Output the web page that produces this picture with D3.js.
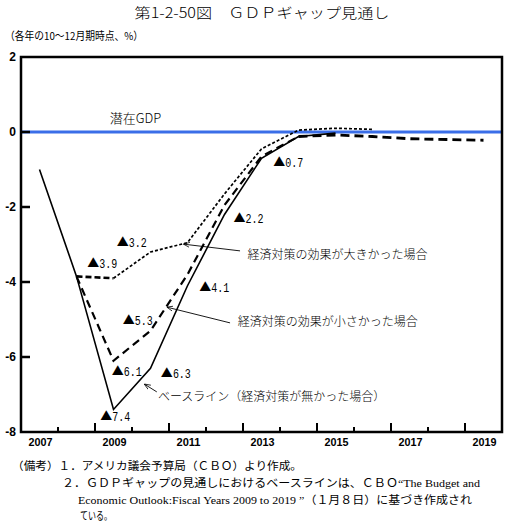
<!DOCTYPE html>
<html lang="ja">
<head>
<meta charset="utf-8">
<title>GDPギャップ見通し</title>
<script src="https://cdn.jsdelivr.net/npm/d3@7"></script>
<style>
  body { margin: 0; background: #fff; }
  svg { display: block; }
</style>
</head>
<body>
<script>
// data
var years = [2007, 2008, 2009, 2010, 2011, 2012, 2013, 2014, 2015, 2016, 2017, 2018, 2019];
var baseline = [-1.0, -3.85, -7.4, -6.3, -4.1, -2.2, -0.7, -0.12, -0.03];
var smallEffect = [null, -3.85, -6.1, -5.3, -3.8, -1.95, -0.65, -0.12, -0.08, -0.12, -0.18, -0.2, -0.22];
var largeEffect = [null, -3.85, -3.9, -3.2, -2.95, -1.65, -0.45, 0.05, 0.1, 0.07];
var yTicks = [2, 0, -2, -4, -6, -8];
var xLabels = [2007, 2009, 2011, 2013, 2015, 2017, 2019];

// ▲ labels: number, [year, value] where the text sits
var gapLabels = [
  ["3.9", 2008.29, -3.62],
  ["3.2", 2009.09, -3.06],
  ["5.3", 2009.25, -5.15],
  ["6.1", 2008.95, -6.50],
  ["7.4", 2008.64, -7.70],
  ["6.3", 2010.28, -6.55],
  ["4.1", 2011.32, -4.26],
  ["2.2", 2012.24, -2.42],
  ["0.7", 2013.32, -0.92]
];
// callouts: text, text pos, leader start, leader tip
var callouts = [
  ["経済対策の効果が大きかった場合", [2012.62, -3.39], [2012.42, -3.17], [2010.89, -2.99]],
  ["経済対策の効果が小さかった場合", [2012.36, -5.17], [2012.15, -5.09], [2010.44, -4.67]],
  ["ベースライン（経済対策が無かった場合）", [2010.2, -7.17], [2010.17, -6.93], [2009.83, -6.72]]
];
var notes = [
  "（備考）１．アメリカ議会予算局（ＣＢＯ）より作成。",
  "２．ＧＤＰギャップの見通しにおけるベースラインは、ＣＢＯ“The Budget and",
  "Economic Outlook:Fiscal Years 2009 to 2019 ”（１月８日）に基づき作成され",
  "ている。"
];

var W = 508, H = 523;
var svg = d3.select("body").append("svg").attr("width", W).attr("height", H);

var x = d3.scaleLinear().domain([2006.5, 2019.5]).range([21, 502]);
var y = d3.scaleLinear().domain([-8, 2]).range([432, 57]);

// title + unit
svg.append("text")
  .attr("x", 262).attr("y", 18)
  .attr("text-anchor", "middle")
  .attr("textLength", 255).attr("lengthAdjust", "spacingAndGlyphs")
  .style("font-family", "'Noto Sans CJK JP'").style("font-size", "14px").style("font-weight", 300)
  .text("第1-2-50図　ＧＤＰギャップ見通し");

svg.append("text")
  .attr("x", 5).attr("y", 40)
  .attr("textLength", 138).attr("lengthAdjust", "spacingAndGlyphs")
  .style("font-family", "'Noto Sans CJK JP'").style("font-size", "11px")
  .text("（各年の10～12月期時点、%）");

// potential GDP line
svg.append("line")
  .attr("x1", x(2006.5)).attr("x2", x(2019.5))
  .attr("y1", y(0)).attr("y2", y(0))
  .attr("stroke", "#3a6ee8").attr("stroke-width", 3);

svg.append("text")
  .attr("x", x(2008.9)).attr("y", y(0.24))
  .style("font-family", "'Noto Sans CJK JP'").style("font-size", "13px").style("font-weight", 300)
  .text("潜在GDP");

// series
var line = d3.line()
  .defined(function(d) { return d != null; })
  .x(function(d, i) { return x(years[i]); })
  .y(function(d) { return y(d); });

svg.append("path").datum(baseline)
  .attr("d", line).attr("fill", "none")
  .attr("stroke", "#000").attr("stroke-width", 1.6);

// small effect: finer dashes up to 2014, bolder after
svg.append("path").datum(smallEffect.map(function(d, i) { return i <= 7 ? d : null; }))
  .attr("d", line).attr("fill", "none")
  .attr("stroke", "#000").attr("stroke-width", 2.2)
  .attr("stroke-dasharray", "8,5");
svg.append("path").datum(smallEffect.map(function(d, i) { return i >= 7 ? d : null; }))
  .attr("d", line).attr("fill", "none")
  .attr("stroke", "#000").attr("stroke-width", 2.8)
  .attr("stroke-dasharray", "9,5");

// large effect: heavy dashes 2008-2009, dotted after
svg.append("path").datum(largeEffect.map(function(d, i) { return i <= 2 ? d : null; }))
  .attr("d", line).attr("fill", "none")
  .attr("stroke", "#000").attr("stroke-width", 2.6)
  .attr("stroke-dasharray", "6,3");
svg.append("path").datum(largeEffect.map(function(d, i) { return i >= 2 ? d : null; }))
  .attr("d", line).attr("fill", "none")
  .attr("stroke", "#000").attr("stroke-width", 1.7)
  .attr("stroke-dasharray", "3,2");

// frame
svg.append("rect")
  .attr("x", x(2006.5)).attr("y", y(2))
  .attr("width", x(2019.5) - x(2006.5)).attr("height", y(-8) - y(2))
  .attr("fill", "none").attr("stroke", "#000").attr("stroke-width", 2.5);

// y ticks (inward) and labels
svg.selectAll(".ytick").data(yTicks.filter(function(d) { return d > -8 && d < 2; }))
  .enter().append("line")
  .attr("x1", x(2006.5)).attr("x2", x(2006.5) + 9)
  .attr("y1", function(d) { return y(d); }).attr("y2", function(d) { return y(d); })
  .attr("stroke", "#000").attr("stroke-width", 2.5);

svg.selectAll(".ylab").data(yTicks)
  .enter().append("text")
  .attr("x", 16).attr("y", function(d) { return y(d) + 4; })
  .attr("text-anchor", "end")
  .style("font-family", "'Liberation Sans', Arial").style("font-size", "12px").style("font-weight", "bold")
  .text(function(d) { return d; });

// x ticks at year boundaries, taller every second one
var xTicks = d3.range(2007.5, 2019, 1);
svg.selectAll(".xtick").data(xTicks)
  .enter().append("line")
  .attr("x1", function(d) { return x(d); }).attr("x2", function(d) { return x(d); })
  .attr("y1", y(-8))
  .attr("y2", function(d, i) { return y(-8) - (i % 2 ? 9 : 5); })
  .attr("stroke", "#000").attr("stroke-width", 2);

svg.selectAll(".xlab").data(xLabels)
  .enter().append("text")
  .attr("x", function(d) { return x(d) + 1; }).attr("y", 446)
  .attr("text-anchor", "middle")
  .attr("textLength", 24).attr("lengthAdjust", "spacingAndGlyphs")
  .style("font-family", "'Liberation Sans', Arial").style("font-size", "11.5px").style("font-weight", "bold")
  .text(function(d) { return d; });

// ▲ gap labels
var gap = svg.selectAll(".gap").data(gapLabels)
  .enter().append("text")
  .attr("x", function(d) { return x(d[1]); })
  .attr("y", function(d) { return y(d[2]); });
gap.append("tspan")
  .style("font-family", "'Noto Sans CJK JP'").style("font-size", "12px")
  .text("▲");
gap.append("tspan")
  .attr("dx", 0)
  .attr("textLength", 18).attr("lengthAdjust", "spacingAndGlyphs")
  .style("font-family", "'Liberation Mono', monospace").style("font-size", "12px")
  .text(function(d) { return d[0]; });

// callouts with arrow leaders
svg.append("defs").append("marker")
  .attr("id", "arr").attr("viewBox", "0 0 10 10")
  .attr("refX", 10).attr("refY", 5)
  .attr("markerWidth", 7).attr("markerHeight", 7)
  .attr("orient", "auto")
  .append("path").attr("d", "M0,1 L10,5 L0,9").attr("fill", "none").attr("stroke", "#000").attr("stroke-width", 1.2);

callouts.forEach(function(c) {
  svg.append("line")
    .attr("x1", x(c[2][0])).attr("y1", y(c[2][1]))
    .attr("x2", x(c[3][0])).attr("y2", y(c[3][1]))
    .attr("stroke", "#000").attr("stroke-width", 0.9)
    .attr("marker-end", "url(#arr)");
  svg.append("text")
    .attr("x", x(c[1][0])).attr("y", y(c[1][1]))
    .style("font-family", "'Noto Sans CJK JP'").style("font-size", "12px").style("font-weight", 300)
    .text(c[0]);
});

// notes
var noteX = [12, 62, 78, 80], noteY = [470, 487, 504, 520], noteLen = [290, 418, 394, 32];
svg.selectAll(".note").data(notes)
  .enter().append("text")
  .attr("x", function(d, i) { return noteX[i]; })
  .attr("y", function(d, i) { return noteY[i]; })
  .attr("textLength", function(d, i) { return noteLen[i]; })
  .attr("lengthAdjust", "spacingAndGlyphs")
  .style("font-family", "'Liberation Serif', 'Noto Sans CJK JP'").style("font-size", "11px")
  .text(function(d) { return d; });
</script>
</body>
</html>
